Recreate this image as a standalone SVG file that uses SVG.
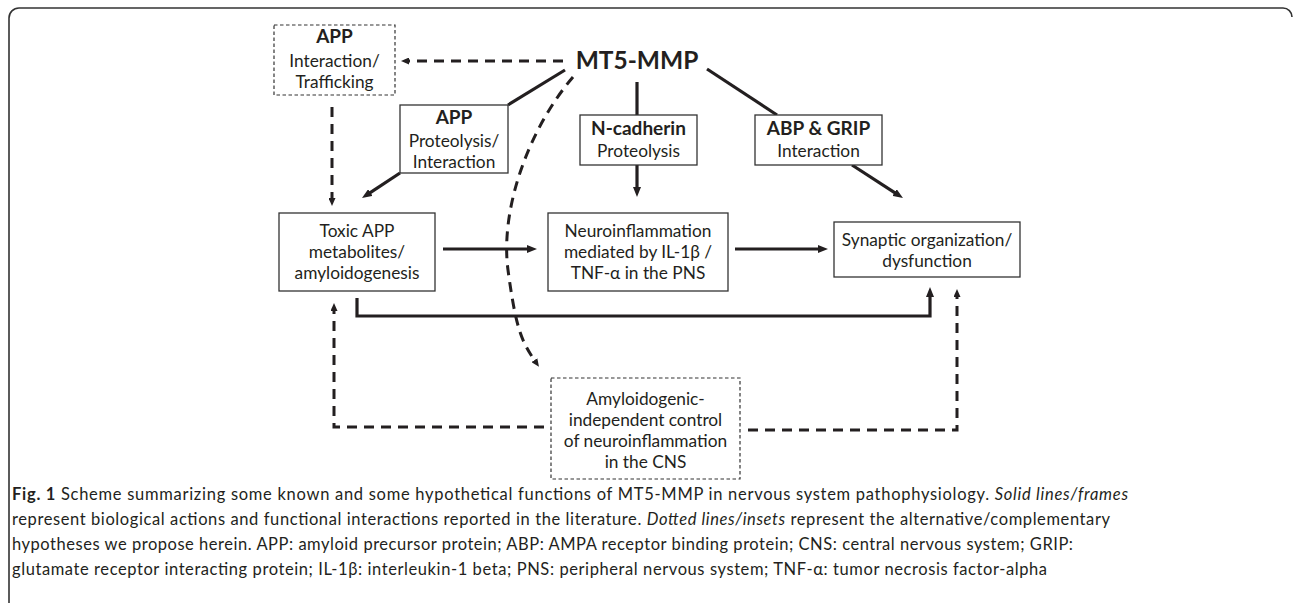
<svg xmlns="http://www.w3.org/2000/svg" width="1293" height="603" viewBox="0 0 1293 603">
<style>
.t{font-family:Lato,"Liberation Sans",sans-serif;font-size:17.3px;fill:#231f20;text-anchor:middle}
.b{font-weight:bold;font-size:19px}
.box{fill:#fff;stroke:#333;stroke-width:1.3}
.dbox{fill:#fff;stroke:#333;stroke-width:1.2;stroke-dasharray:3.5 2.5}
.s{fill:none;stroke:#231f20;stroke-width:3.2}
.d{fill:none;stroke:#231f20;stroke-width:3;stroke-dasharray:10 7}
.cap{font-family:Lato,"Liberation Sans",sans-serif;font-size:16.5px;fill:#231f20}
</style>
<defs>
<marker id="ah" markerUnits="userSpaceOnUse" viewBox="0 0 10 8" markerWidth="10" markerHeight="8" refX="1" refY="4" orient="auto"><path d="M0,0 L10,4 L0,8 z" fill="#231f20"/></marker>
<marker id="ahs" markerUnits="userSpaceOnUse" viewBox="0 0 8 7" markerWidth="8" markerHeight="7" refX="1" refY="3.5" orient="auto"><path d="M0,0 L8,3.5 L0,7 z" fill="#231f20"/></marker>
</defs>
<rect width="1293" height="603" fill="#fff"/>
<path d="M9,603 V18 A10,10 0 0 1 19,8 H1283 A9,9 0 0 1 1292,17" fill="none" stroke="#333" stroke-width="1.6"/>

<g id="connectors">
<path class="d" d="M563,61 H408" marker-end="url(#ahs)"/>
<path class="s" d="M565,70 L508,105"/>
<path class="s" d="M637,82 V115"/>
<path class="s" d="M707,69 L777,115"/>
<path class="d" d="M332,107 V199" marker-end="url(#ahs)"/>
<path class="s" d="M400,173 L369.5,193.1" marker-end="url(#ah)"/>
<path class="s" d="M637,165 V188" marker-end="url(#ah)"/>
<path class="s" d="M852,165 L895.4,193.1" marker-end="url(#ah)"/>
<path class="s" d="M443,249 H528" marker-end="url(#ah)"/>
<path class="s" d="M735,249 H819" marker-end="url(#ah)"/>
<path class="s" d="M357,298 V316 H930 V296" marker-end="url(#ah)"/>
<path class="d" d="M573,77 C528,130 500,210 508,270 S522,342 535,361" marker-end="url(#ahs)"/>
<path class="d" d="M544,427 H334 V310" marker-end="url(#ahs)"/>
<path class="d" d="M748,430 H957 V296" marker-end="url(#ahs)"/>
</g>

<g id="mt5">
<text class="t" x="637" y="69" style="font-weight:bold;font-size:24.5px">MT5-MMP</text>
</g>
<g id="app-traffic">
<rect class="dbox" x="274" y="25" width="121" height="70"/>
<text class="t b" x="334.5" y="43">APP</text>
<text class="t" x="334.5" y="67">Interaction/</text>
<text class="t" x="334.5" y="88">Trafficking</text>
</g>
<g id="app-prot">
<rect class="box" x="400" y="105" width="108" height="68"/>
<text class="t b" x="454" y="124">APP</text>
<text class="t" x="454" y="147">Proteolysis/</text>
<text class="t" x="454" y="168">Interaction</text>
</g>
<g id="ncad">
<rect class="box" x="580" y="115" width="117" height="50"/>
<text class="t b" x="638.5" y="135">N-cadherin</text>
<text class="t" x="638.5" y="157">Proteolysis</text>
</g>
<g id="abp">
<rect class="box" x="755" y="115" width="127" height="50"/>
<text class="t b" x="818.5" y="135">ABP &amp; GRIP</text>
<text class="t" x="818.5" y="157">Interaction</text>
</g>
<g id="toxic">
<rect class="box" x="279" y="213" width="156" height="78"/>
<text class="t" x="357" y="237">Toxic APP</text>
<text class="t" x="357" y="258">metabolites/</text>
<text class="t" x="357" y="279">amyloidogenesis</text>
</g>
<g id="neuro">
<rect class="box" x="548" y="213" width="180" height="78"/>
<text class="t" x="638" y="237">Neuroinflammation</text>
<text class="t" x="638" y="258">mediated by IL-1β /</text>
<text class="t" x="638" y="279">TNF-α in the PNS</text>
</g>
<g id="synaptic">
<rect class="box" x="834" y="222" width="186" height="55"/>
<text class="t" x="927" y="246">Synaptic organization/</text>
<text class="t" x="927" y="267">dysfunction</text>
</g>
<g id="amyloid">
<rect class="dbox" x="551" y="378" width="189" height="101"/>
<text class="t" x="645.5" y="405">Amyloidogenic-</text>
<text class="t" x="645.5" y="426">independent control</text>
<text class="t" x="645.5" y="447">of neuroinflammation</text>
<text class="t" x="645.5" y="468">in the CNS</text>
</g>

<g id="caption">
<text class="cap" x="12" y="500" textLength="1116"><tspan font-weight="bold">Fig. 1</tspan> Scheme summarizing some known and some hypothetical functions of MT5-MMP in nervous system pathophysiology. <tspan font-style="italic">Solid lines/frames</tspan></text>
<text class="cap" x="12" y="525" textLength="1098">represent biological actions and functional interactions reported in the literature. <tspan font-style="italic">Dotted lines/insets</tspan> represent the alternative/complementary</text>
<text class="cap" x="12" y="550" textLength="1061">hypotheses we propose herein. APP: amyloid precursor protein; ABP: AMPA receptor binding protein; CNS: central nervous system; GRIP:</text>
<text class="cap" x="12" y="575" textLength="1035">glutamate receptor interacting protein; IL-1β: interleukin-1 beta; PNS: peripheral nervous system; TNF-α: tumor necrosis factor-alpha</text>
</g>
</svg>
